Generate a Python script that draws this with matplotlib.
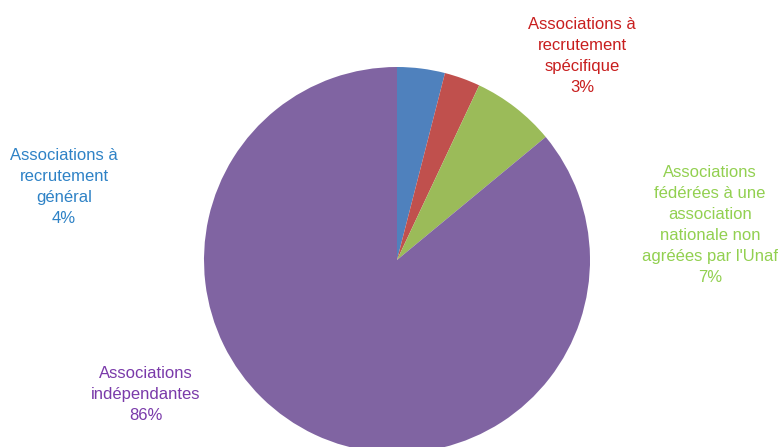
import matplotlib.pyplot as plt

labels = ["Associations à\nrecrutement\ngénéral\n4%",
          "Associations à\nrecrutement\nspécifique\n3%",
          "Associations\nfédérées à une\nassociation\nnationale non\nagréées par l'Unaf\n7%",
          "Associations\nindépendantes\n86%"]
values = [4, 3, 7, 86]
colors = ["#4F81BD", "#C0504D", "#9BBB59", "#8064A2"]
text_colors = ["#2E82C6", "#C81E1E", "#92D050", "#7A3AAA"]
# label centres in pixels (from top-left)
label_pos = [(64, 187), (582, 56), (710, 225), (146, 395)]

W, H = 782, 447
fig = plt.figure(figsize=(W / 100, H / 100), dpi=100)
ax = fig.add_axes([0, 0, 1, 1])

ax.pie(values, colors=colors, startangle=90, counterclock=False,
       center=(397, H - 260), radius=193, frame=True)
ax.set_xlim(0, W)
ax.set_ylim(0, H)
ax.set_aspect("equal")
ax.axis("off")

for lab, (x, y), c in zip(labels, label_pos, text_colors):
    ax.text(x, H - y, lab, ha="center", va="center", color=c,
            fontsize=12, family="Liberation Sans", linespacing=1.5)

fig.savefig("out.png", dpi=100)
